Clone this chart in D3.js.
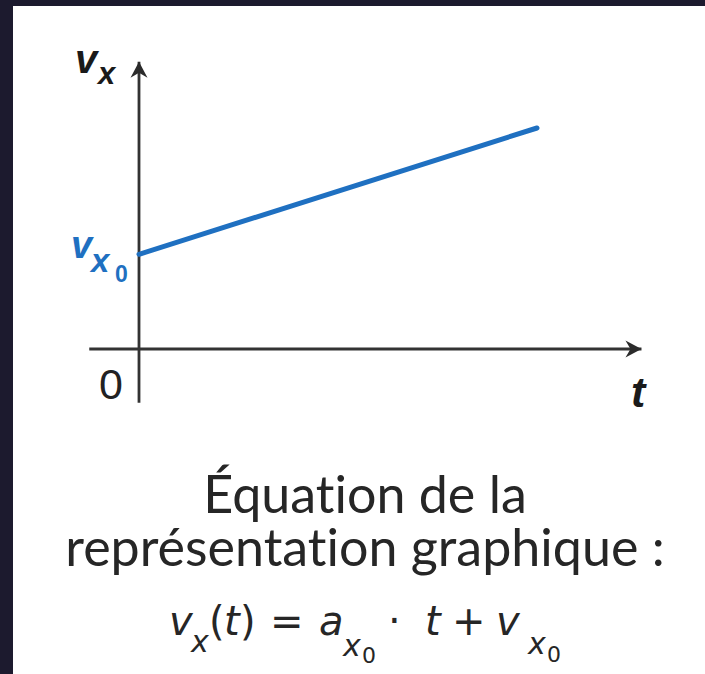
<!DOCTYPE html>
<html lang="fr">
<head>
<meta charset="UTF-8" />
<title>v_x(t) linéaire</title>
<script src="https://d3js.org/d3.v7.min.js"></script>
<style>
  body { margin: 0; background: #1c1a2e; }
  svg { display: block; }
  text { font-variant-ligatures: none; font-feature-settings: "liga" 0, "clig" 0; }
</style>
</head>
<body>
<script>
// data : vitesse qui croît linéairement
var tValues = [0, 8];
var vValues = [3, 7];
// bornes des axes (unités du graphe)
var tAxis = [-1, 10.1];
var vAxis = [-1.7, 9.1];
var captionLines = ["Équation de la", "représentation graphique :"];

var width = 705, height = 674;

var svg = d3.select("body").append("svg")
    .attr("width", width)
    .attr("height", height);

// fond sombre + panneau blanc
svg.append("rect").attr("width", width).attr("height", height).attr("fill", "#1c1a2e");
svg.append("rect").attr("x", 13).attr("y", 6)
    .attr("width", width - 13).attr("height", height - 6)
    .attr("fill", "#ffffff");

var x = d3.scaleLinear().domain([0, 8]).range([139, 537]);
var y = d3.scaleLinear().domain([0, 7]).range([349, 128]);

// flèche
var defs = svg.append("defs");
defs.append("marker")
    .attr("id", "arrow")
    .attr("viewBox", "-17 -9 18 18")
    .attr("refX", 0).attr("refY", 0)
    .attr("markerWidth", 18).attr("markerHeight", 18)
    .attr("markerUnits", "userSpaceOnUse")
    .attr("orient", "auto")
    .append("path")
    .attr("d", "M0,0 L-16,-8.5 L-11,0 L-16,8.5 Z")
    .attr("fill", "#2b2b2b");

var axes = svg.append("g").attr("stroke", "#333").attr("stroke-width", 2.8).attr("fill", "none");

axes.append("line")
    .attr("x1", x(tAxis[0])).attr("x2", x(tAxis[1]))
    .attr("y1", y(0)).attr("y2", y(0))
    .attr("marker-end", "url(#arrow)");

axes.append("line")
    .attr("x1", x(0)).attr("x2", x(0))
    .attr("y1", y(vAxis[0])).attr("y2", y(vAxis[1]))
    .attr("marker-end", "url(#arrow)");

// la droite v_x(t)
var line = d3.line()
    .x(function(d, i) { return x(tValues[i]); })
    .y(function(d) { return y(d); });

svg.append("path")
    .datum(vValues)
    .attr("d", line)
    .attr("fill", "none")
    .attr("stroke", "#1f70c1")
    .attr("stroke-width", 5)
    .attr("stroke-linecap", "round");

// labels des axes
var lab = svg.append("g").attr("font-family", "Liberation Sans, Arial, sans-serif");

var vx = lab.append("text").attr("x", 75).attr("y", 73)
    .attr("font-weight", "bold").attr("font-style", "italic").attr("fill", "#1a1a1a");
vx.append("tspan").attr("font-size", 40).text("v");
vx.append("tspan").attr("x", 98).attr("y", 84).attr("font-size", 31).text("x");

var v0 = lab.append("text").attr("x", 71).attr("y", y(vValues[0]) + 4)
    .attr("font-weight", "bold").attr("font-style", "italic").attr("fill", "#1f70c1");
v0.append("tspan").attr("font-size", 38).text("v");
v0.append("tspan").attr("x", 91).attr("y", y(vValues[0]) + 18).attr("font-size", 33).text("x");
v0.append("tspan").attr("x", 115).attr("y", y(vValues[0]) + 28).attr("font-size", 23)
    .attr("font-style", "normal").text("0");

lab.append("text").attr("x", 99).attr("y", 399)
    .attr("font-size", 43).attr("fill", "#222").text("0");

lab.append("text").attr("x", 631).attr("y", 407)
    .attr("font-size", 43).attr("font-weight", "bold").attr("font-style", "italic")
    .attr("fill", "#1a1a1a").text("t");

// légende sous le graphe (un seul texte, deux lignes)
var cap = svg.append("text").attr("font-family", "Lato, sans-serif").attr("fill", "#262626")
    .attr("font-size", 52).attr("text-anchor", "middle")
    .attr("x", 365).attr("y", 513);
cap.selectAll("tspan").data(captionLines).enter().append("tspan")
    .attr("x", 365)
    .attr("dy", function(d, i) { return i === 0 ? 0 : 53; })
    .text(function(d) { return d; });

// équation  v_x(t) = a_x0 · t + v_x0
var eq = svg.append("g").attr("font-family", "DejaVu Sans, Verdana, sans-serif").attr("fill", "#262626");
function piece(txt, px, py, size, italic) {
    eq.append("text").attr("x", px).attr("y", py).attr("font-size", size)
        .attr("font-style", italic ? "italic" : "normal").text(txt);
}
piece("v", 169, 635, 40, true);
piece("x", 191, 652, 30, true);
piece("(", 209, 635, 40, false);
piece("t", 224, 635, 40, true);
piece(")", 240, 635, 40, false);
piece("=", 270, 635, 40, false);
piece("a", 319, 635, 40, true);
piece("x", 343, 656, 30, true);
piece("0", 362, 663, 22, false);
piece("·", 388, 635, 40, false);
piece("t", 425, 635, 40, true);
piece("+", 452, 635, 40, false);
piece("v", 496, 635, 40, true);
piece("x", 528, 654, 30, true);
piece("0", 547, 662, 22, false);
</script>
</body>
</html>
